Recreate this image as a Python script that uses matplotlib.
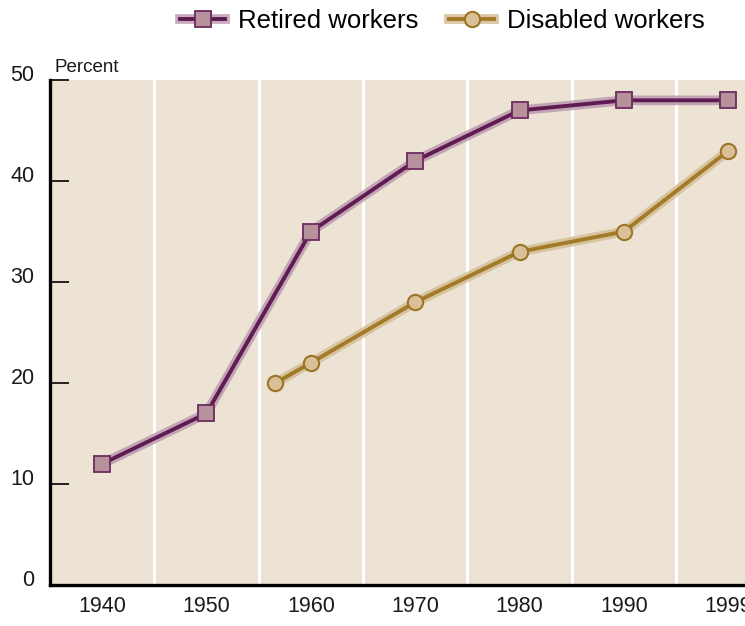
import numpy as np
import matplotlib.pyplot as plt
import matplotlib.transforms as mtransforms
from matplotlib.lines import Line2D

# data
tick_labels = ['1940', '1950', '1960', '1970', '1980', '1990', '1999']
tick_pos = [1940, 1950, 1960, 1970, 1980, 1990, 2000]  # 1999 sits on a decade slot

retired_x = [1940, 1950, 1960, 1970, 1980, 1990, 2000]
retired_y = [12, 17, 35, 42, 47, 48, 48]

disabled_x = [1956.6, 1960, 1970, 1980, 1990, 2000]
disabled_y = [20, 22, 28, 33, 35, 43]

plt.rcParams['font.family'] = ['Liberation Sans', 'DejaVu Sans']

fig = plt.figure(figsize=(7.45, 6.26), dpi=100)
ax = fig.add_axes([0.067, 0.0655, 0.933, 0.8065])
ax.set_facecolor('#ece3d4')

for gx in np.arange(1945, 2000, 10):
    ax.axvline(gx, color='white', lw=2.2, zorder=1)

# retired workers
purple, purple_halo = '#5f1c52', '#b995ad'
ax.plot(retired_x, retired_y, color=purple_halo, lw=7, alpha=0.8, zorder=2,
        solid_capstyle='butt')
ax.plot(retired_x, retired_y, color=purple, lw=2.8, zorder=3)
ax.plot(retired_x, retired_y, ls='none', marker='s', ms=12, mfc='#b7929d',
        mec='#6b2a5c', mew=1.3, zorder=4)

# disabled workers
gold, gold_halo = '#a27a28', '#d6c09a'
ax.plot(disabled_x, disabled_y, color=gold_halo, lw=7, alpha=0.9, zorder=2,
        solid_capstyle='butt')
ax.plot(disabled_x, disabled_y, color=gold, lw=2.8, zorder=3)
ax.plot(disabled_x, disabled_y, ls='none', marker='o', ms=11, mfc='#dac096',
        mec='#9b7426', mew=1.5, zorder=4)

ax.set_xlim(1935, 2001.6)
ax.set_ylim(0, 50)
ax.set_xticks(tick_pos)
ax.set_xticklabels(tick_labels)
ax.set_yticks([0, 10, 20, 30, 40, 50])
ax.tick_params(axis='x', length=0, pad=8, labelsize=15.5, labelcolor='#1a1a1a')
ax.tick_params(axis='y', direction='in', length=14, width=1.2, pad=11,
               labelsize=15.5, colors='black', labelcolor='#1a1a1a')

# y labels sit a little above their ticks
shift = mtransforms.ScaledTranslation(0, 5 / 72, fig.dpi_scale_trans)
for lab in ax.get_yticklabels():
    lab.set_transform(lab.get_transform() + shift)

for s in ['top', 'right']:
    ax.spines[s].set_visible(False)
for s in ['left', 'bottom']:
    ax.spines[s].set_linewidth(2.4)
    ax.spines[s].set_color('black')

fig.text(0.073, 0.879, 'Percent', fontsize=13.5, color='#1a1a1a',
         ha='left', va='bottom')

h_ret = (Line2D([], [], color=purple_halo, lw=7, alpha=0.8),
         Line2D([], [], color=purple, lw=2.8, marker='s', ms=12,
                mfc='#b7929d', mec='#6b2a5c', mew=1.3))
h_dis = (Line2D([], [], color=gold_halo, lw=7, alpha=0.9),
         Line2D([], [], color=gold, lw=2.8, marker='o', ms=11,
                mfc='#dac096', mec='#9b7426', mew=1.5))
fig.legend([h_ret, h_dis], ['Retired workers', 'Disabled workers'],
           loc='center', bbox_to_anchor=(0.594, 0.966), ncol=2, frameon=False,
           fontsize=18.5, handlelength=1.75, columnspacing=1.2,
           handletextpad=0.5)

fig.savefig('out.png', dpi=100)
